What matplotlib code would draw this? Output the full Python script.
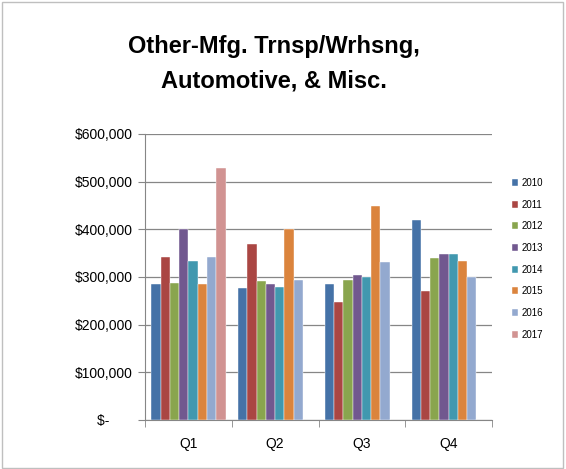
import numpy as np
import matplotlib
matplotlib.use('Agg')
from matplotlib import pyplot as plt
from matplotlib.patches import Rectangle
from matplotlib.ticker import FuncFormatter

plt.rcParams['font.family'] = ['Liberation Sans', 'DejaVu Sans']

quarters = ["Q1", "Q2", "Q3", "Q4"]
years = ["2010", "2011", "2012", "2013", "2014", "2015", "2016", "2017"]
# values per year, one per quarter (nan = no data)
v2010 = [285000, 277000, 285000, 420000]
v2011 = [341000, 370000, 248000, 270000]
v2012 = [288000, 291000, 293000, 339000]
v2013 = [401000, 285000, 305000, 349000]
v2014 = [333000, 279000, 300000, 349000]
v2015 = [285000, 401000, 449000, 333000]
v2016 = [341000, 293000, 331000, 300000]
v2017 = [528000, np.nan, np.nan, np.nan]
series = [v2010, v2011, v2012, v2013, v2014, v2015, v2016, v2017]
colors = ["#4572A7", "#AA4643", "#89A54E", "#71588F",
          "#4198AF", "#DB843D", "#93A9CF", "#D19392"]

fig = plt.figure(figsize=(5.66, 4.69), dpi=100)
fig.patches.append(Rectangle((0.003, 0.003), 0.992, 0.992, transform=fig.transFigure,
                             fill=False, edgecolor="#BFBFBF", linewidth=1.0))
ax = fig.add_axes([0.2562, 0.1045, 0.6131, 0.6098])

x = np.arange(len(quarters))
w = 0.107
for i, (vals, c) in enumerate(zip(series, colors)):
    ax.bar(x + (i - 3.5) * w, vals, width=w, color=c, label=years[i],
           edgecolor="white", linewidth=0.3, zorder=3)

ax.set_xlim(-0.5, 3.5)
ax.set_ylim(0, 600000)
ax.set_yticks(np.arange(0, 600001, 100000))
ax.yaxis.set_major_formatter(FuncFormatter(
    lambda v, p: "$-      " if v == 0 else f"${v:,.0f}"))
ax.set_xticks(x)
ax.set_xticklabels(quarters)
ax.set_xticks(np.arange(-0.5, 3.6, 1), minor=True)
ax.tick_params(axis='x', which='major', length=0, pad=12, labelsize=10)
ax.tick_params(axis='x', which='minor', length=5, color="#868686", direction='out')
ax.tick_params(axis='y', length=5, color="#868686", labelsize=10, pad=4)
ax.grid(axis='y', color="#868686", linewidth=0.9, zorder=0)
for s in ["top", "right"]:
    ax.spines[s].set_visible(False)
for s in ["left", "bottom"]:
    ax.spines[s].set_color("#868686")

fig.text(0.484, 0.864, "Other-Mfg. Trnsp/Wrhsng,\nAutomotive, & Misc.",
         ha='center', va='center', fontsize=17, fontweight='bold',
         linespacing=1.6)

ax.legend(loc='upper left', bbox_to_anchor=(1.045, 0.86), frameon=False,
          fontsize=7, handlelength=0.7, handleheight=0.7, handletextpad=0.3,
          labelspacing=1.2, borderaxespad=0)

plt.savefig("out.png", dpi=100)
plt.close()
